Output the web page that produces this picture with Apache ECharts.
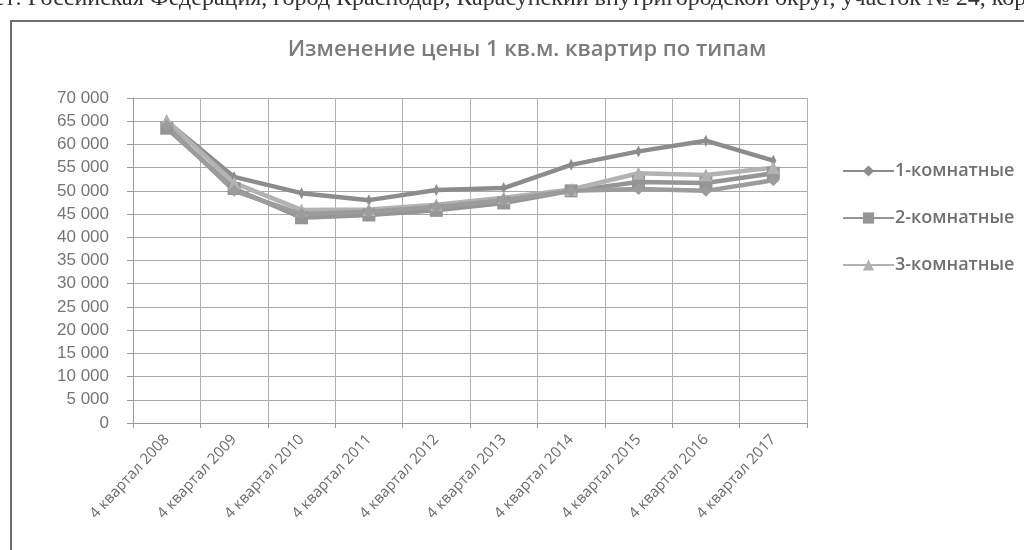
<!DOCTYPE html>
<html>
<head>
<meta charset="utf-8">
<script src="https://cdn.jsdelivr.net/npm/echarts@6/dist/echarts.min.js"></script>
<style>
  html, body { margin: 0; padding: 0; background: #fff; }
  #chart { width: 1024px; height: 550px; }
</style>
</head>
<body>
<div id="chart"></div>
<script>
// categories and values
const quarters = ["4 квартал 2008", "4 квартал 2009", "4 квартал 2010", "4 квартал 2011", "4 квартал 2012",
  "4 квартал 2013", "4 квартал 2014", "4 квартал 2015", "4 квартал 2016", "4 квартал 2017"];
const oneRoom = [65000, 53000, 49500, 48000, 50200, 50600, 55600, 58500, 60800, 56500];
const twoRoom = [63500, 50500, 44200, 44800, 45800, 47400, 50000, 51900, 51700, 53800];
const threeRoom = [65200, 51700, 45900, 46000, 47000, 48500, 50300, 53800, 53400, 55000];
// fourth line drawn on the chart but not shown in the legend
const extraLine = [64000, 50000, 45000, 45500, 46500, 48000, 50000, 50400, 50000, 52300];
const legendNames = ["1-комнатные", "2-комнатные", "3-комнатные"];
const pageText = "ет: Российская Федерация, город Краснодар, Карасунский внутригородской округ, участок № 24, кор";

const chart = echarts.init(document.getElementById("chart"));

function line(name, data, color, symbol, size) {
  return {
    name: name,
    type: "line",
    data: data,
    symbol: symbol,
    symbolSize: size,
    showAllSymbol: true,
    lineStyle: { width: 4.5, color: color },
    itemStyle: { color: color },
    z: 3
  };
}

chart.setOption({
  animation: false,
  title: {
    text: "Изменение цены 1 кв.м. квартир по типам",
    left: 522,
    textAlign: "center",
    top: 34,
    textStyle: { fontFamily: "Open Sans", fontSize: 22, fontWeight: 600, color: "#7c7c7c" }
  },
  legend: {
    data: legendNames,
    orient: "vertical",
    left: 837,
    top: 157,
    itemWidth: 51,
    itemHeight: 14,
    itemGap: 29,
    textStyle: { fontFamily: "Open Sans", fontSize: 18, fontWeight: 600, color: "#707070", padding: [0, 0, 0, -4] }
  },
  grid: { left: 133, right: 217, top: 98, bottom: 127 },
  xAxis: {
    type: "category",
    data: quarters,
    boundaryGap: true,
    axisLine: { lineStyle: { color: "#9a9a9a" } },
    axisTick: { show: true, length: 5, lineStyle: { color: "#9a9a9a" } },
    splitLine: { show: true, lineStyle: { color: "#b0b0b0", width: 1 } },
    axisLabel: {
      rotate: 47,
      margin: 14,
      interval: 0,
      fontFamily: "Open Sans",
      fontSize: 15,
      color: "#6a6a6a"
    }
  },
  yAxis: {
    type: "value",
    min: 0,
    max: 70000,
    interval: 5000,
    axisLine: { show: true, lineStyle: { color: "#9a9a9a" } },
    axisTick: { show: true, length: 6, lineStyle: { color: "#9a9a9a" } },
    splitLine: { show: true, lineStyle: { color: "#a8a8a8", width: 1 } },
    axisLabel: {
      margin: 24,
      fontFamily: "Liberation Sans",
      fontSize: 17,
      color: "#757575",
      formatter: function (v) {
        return String(v).replace(/\B(?=(\d{3})+(?!\d))/g, " ");
      }
    }
  },
  series: [
    line("1-комнатные", oneRoom, "#8c8c8c", "diamond", [6, 12]),
    line("2-комнатные", twoRoom, "#959595", "rect", 13),
    line("3-комнатные", threeRoom, "#b2b2b2", "triangle", 13),
    line("серия 4", extraLine, "#9c9c9c", "diamond", 12)
  ],
  graphic: [
    {
      type: "text",
      left: -6,
      top: -13,
      style: { text: pageText, font: "24px 'Liberation Serif'", fill: "#333" }
    },
    {
      type: "rect",
      shape: { x: 11, y: 21, width: 1030, height: 560 },
      style: { fill: null, stroke: "#6e6e6e", lineWidth: 2 }
    }
  ]
});
</script>
</body>
</html>
